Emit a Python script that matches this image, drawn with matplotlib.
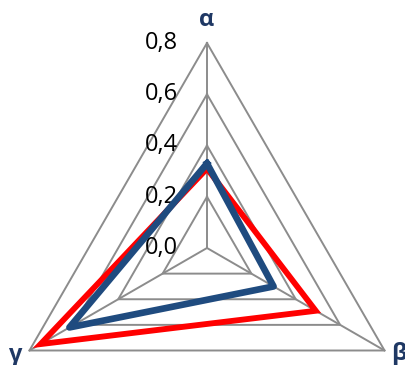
import numpy as np
import matplotlib
matplotlib.use('Agg')
import matplotlib.pyplot as plt

# data
categories = ['α', 'β', 'γ']
red_values = [0.31, 0.49, 0.75]
blue_values = [0.33, 0.30, 0.62]
levels = [0.0, 0.2, 0.4, 0.6, 0.8]
level_labels = ['0,0', '0,2', '0,4', '0,6', '0,8']

W, H = 406, 365
cx, cy, R = 207, 248, 205  # centre and outer radius in pixels

fig = plt.figure(figsize=(W / 100, H / 100), dpi=100)
ax = fig.add_axes([(cx - R) / W, (H - cy - R) / H, 2 * R / W, 2 * R / H], projection='polar')
ax.set_theta_zero_location('N')
ax.set_theta_direction(-1)
ax.set_ylim(0, 0.8)
ax.grid(False)
ax.set_xticks([])
ax.set_yticks([])
ax.spines['polar'].set_visible(False)
ax.patch.set_visible(False)

angles = np.linspace(0, 2 * np.pi, len(categories), endpoint=False)
closed = np.append(angles, angles[0])

grid_col = '#8c8c8c'
for lv in levels[1:]:
    ax.plot(closed, [lv] * len(closed), color=grid_col, lw=1.4, clip_on=False, zorder=1)
for a in angles:
    ax.plot([a, a], [0, levels[-1]], color=grid_col, lw=1.4, clip_on=False, zorder=1)

ax.plot(closed, red_values + red_values[:1], color='#ff0000', lw=4.2,
        solid_joinstyle='miter', clip_on=False, zorder=3)
ax.plot(closed, blue_values + blue_values[:1], color='#1f4b7f', lw=4.8,
        solid_joinstyle='round', clip_on=False, zorder=4)

# radial value labels, left of the top spoke
for lv, lab in zip(levels, level_labels):
    ax.annotate(lab, xy=(0, lv), xytext=(-29, 0), textcoords='offset pixels',
                ha='right', va='center', fontsize=17, color='black',
                family='Open Sans', annotation_clip=False, zorder=2)

# category labels
offsets = [(0, 23), (14, -4), (-15, -4)]
for a, lab, off in zip(angles, categories, offsets):
    ax.annotate(lab, xy=(a, levels[-1]), xytext=off, textcoords='offset pixels',
                ha='center', va='center', fontsize=17, fontweight='bold',
                color='#1f3864', family='Open Sans', annotation_clip=False)

fig.savefig('out.png', dpi=100)
